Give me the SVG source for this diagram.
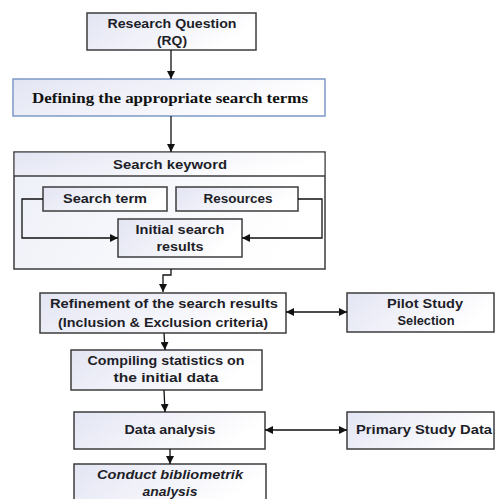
<svg xmlns="http://www.w3.org/2000/svg" width="495" height="499" viewBox="0 0 495 499">
<defs>
<linearGradient id="g" x1="0" y1="0" x2="1" y2="0.3">
<stop offset="0" stop-color="#e3e5f3"/>
<stop offset="1" stop-color="#ffffff"/>
</linearGradient>
<linearGradient id="g2" x1="0" y1="0" x2="1" y2="0.2">
<stop offset="0" stop-color="#eef0f8"/>
<stop offset="1" stop-color="#ffffff"/>
</linearGradient>
<marker id="ah" viewBox="0 0 10 10" refX="10" refY="5" markerWidth="8" markerHeight="8" markerUnits="userSpaceOnUse" orient="auto-start-reverse">
<path d="M0,0 L10,5 L0,10 Z" fill="#111"/>
</marker>
</defs>
<style>
.box{fill:url(#g);stroke:#3c3c3c;stroke-width:1.5}
.blue{fill:url(#g);stroke:#7d98c8;stroke-width:1.5}
.outer{fill:url(#g2);stroke:#3c3c3c;stroke-width:1.5}
.t{font-family:"Liberation Sans",Arial,sans-serif;font-weight:bold;font-size:13.5px;fill:#1e1e28;text-anchor:middle}
.it{font-style:italic}
.serif{font-family:"Liberation Serif","Times New Roman",serif;font-weight:bold;font-size:15.5px;fill:#111;text-anchor:middle}
.c{fill:none;stroke:#111;stroke-width:1.3}
</style>
<rect width="495" height="499" fill="#fff"/>
<g id="rq">
<rect class="box" x="87" y="13" width="169" height="37"/>
<text class="t" x="172" y="28" textLength="129" lengthAdjust="spacingAndGlyphs">Research Question</text>
<text class="t" x="172" y="45" textLength="30" lengthAdjust="spacingAndGlyphs">(RQ)</text>
</g>
<g id="define">
<rect class="blue" x="13" y="79" width="312" height="37"/>
<text class="serif" x="170" y="103" textLength="276" lengthAdjust="spacingAndGlyphs">Defining the appropriate search terms</text>
</g>
<g id="keyword">
<rect class="outer" x="14" y="152" width="311" height="117"/>
<rect x="14.75" y="152.75" width="309.5" height="22.5" fill="url(#g)"/>
<line x1="14" y1="176" x2="325" y2="176" stroke="#3c3c3c" stroke-width="1.5"/>
<text class="t" x="170" y="169" textLength="114" lengthAdjust="spacingAndGlyphs">Search keyword</text>
</g>
<g id="term">
<rect class="box" x="43" y="187" width="124" height="24"/>
<text class="t" x="105" y="203" textLength="84" lengthAdjust="spacingAndGlyphs">Search term</text>
</g>
<g id="resources">
<rect class="box" x="176" y="187" width="122" height="24"/>
<text class="t" x="238" y="203" textLength="69" lengthAdjust="spacingAndGlyphs">Resources</text>
</g>
<g id="initial">
<rect class="box" x="118" y="219" width="124" height="38"/>
<text class="t" x="180" y="234" textLength="89" lengthAdjust="spacingAndGlyphs">Initial search</text>
<text class="t" x="180" y="251" textLength="47" lengthAdjust="spacingAndGlyphs">results</text>
</g>
<g id="refine">
<rect class="box" x="40" y="293" width="246" height="40"/>
<text class="t" x="164" y="308" textLength="228" lengthAdjust="spacingAndGlyphs">Refinement of the search results</text>
<text class="t" x="163" y="327" textLength="210" lengthAdjust="spacingAndGlyphs">(Inclusion &amp; Exclusion criteria)</text>
</g>
<g id="pilot">
<rect class="box" x="347" y="293" width="147" height="39"/>
<text class="t" x="425" y="308" textLength="76" lengthAdjust="spacingAndGlyphs">Pilot Study</text>
<text class="t" x="426" y="325" textLength="57" lengthAdjust="spacingAndGlyphs">Selection</text>
</g>
<g id="compile">
<rect class="box" x="71" y="350" width="191" height="40"/>
<text class="t" x="166" y="365" textLength="157" lengthAdjust="spacingAndGlyphs">Compiling statistics on</text>
<text class="t" x="166" y="382" textLength="105" lengthAdjust="spacingAndGlyphs">the initial data</text>
</g>
<g id="analysis">
<rect class="box" x="74" y="412" width="191" height="37"/>
<text class="t" x="170" y="434" textLength="91" lengthAdjust="spacingAndGlyphs">Data analysis</text>
</g>
<g id="primary">
<rect class="box" x="347" y="412" width="147" height="37"/>
<text class="t" x="424" y="434" textLength="136" lengthAdjust="spacingAndGlyphs">Primary Study Data</text>
</g>
<g id="biblio">
<rect class="box" x="74" y="464" width="192" height="40"/>
<text class="t it" x="170" y="479" textLength="146" lengthAdjust="spacingAndGlyphs">Conduct bibliometrik</text>
<text class="t it" x="170" y="496" textLength="55" lengthAdjust="spacingAndGlyphs">analysis</text>
</g>
<g id="connectors">
<line class="c" x1="171" y1="50" x2="171" y2="79" marker-end="url(#ah)"/>
<line class="c" x1="171" y1="116" x2="171" y2="152" marker-end="url(#ah)"/>
<polyline class="c" points="43,199 22,199 22,238 118,238" marker-end="url(#ah)"/>
<polyline class="c" points="298,199 322,199 322,238 242,238" marker-end="url(#ah)"/>
<polyline class="c" points="171,269 171,275 163,275 163,292" marker-end="url(#ah)"/>
<line class="c" x1="286" y1="312" x2="347" y2="312" marker-start="url(#ah)" marker-end="url(#ah)"/>
<line class="c" x1="164" y1="333" x2="165" y2="350" marker-end="url(#ah)"/>
<line class="c" x1="164" y1="390" x2="165" y2="412" marker-end="url(#ah)"/>
<line class="c" x1="265" y1="430" x2="347" y2="430" marker-start="url(#ah)" marker-end="url(#ah)"/>
<line class="c" x1="170" y1="449" x2="170" y2="464" marker-end="url(#ah)"/>
</g>
</svg>
